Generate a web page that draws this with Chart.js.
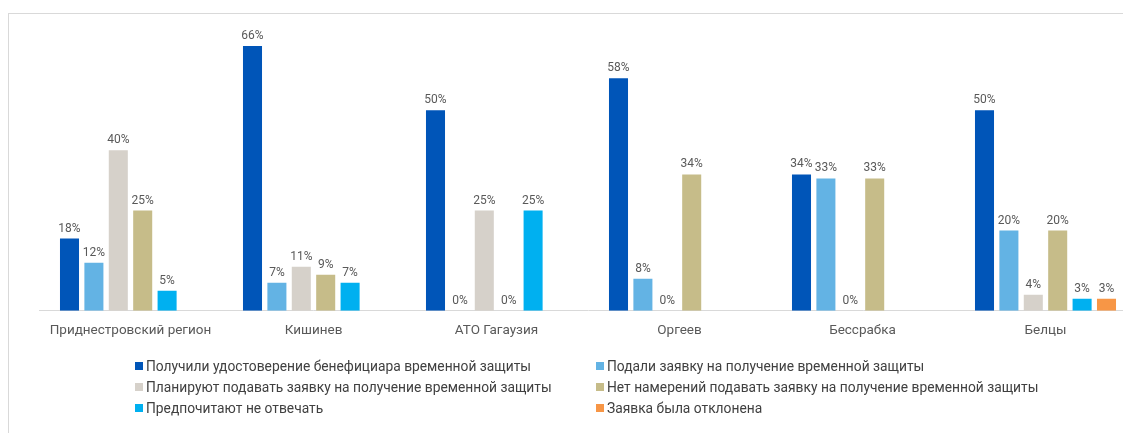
<!DOCTYPE html>
<html>
<head>
<meta charset="utf-8">
<script src="https://cdn.jsdelivr.net/npm/chart.js@4/dist/chart.umd.min.js"></script>
<style>
  html, body { margin: 0; padding: 0; background: #fff; width: 1123px; height: 433px; overflow: hidden; }
  #frame { position: absolute; left: 8px; top: 13px; width: 1300px; height: 600px; border: 1px solid #d9d9d9; box-sizing: border-box; }
  #wrap { position: absolute; left: 0; top: 0; width: 1150px; height: 353px; }
  #legend { position: absolute; left: 0; top: 0; width: 1123px; height: 433px; pointer-events: none;
            font-family: Roboto, "Noto Sans", sans-serif; font-size: 13.8px; color: #404040; }
  .li { position: absolute; display: flex; align-items: center; white-space: nowrap; height: 18px; }
  .sw { width: 8px; height: 8px; margin-right: 3px; flex: none; }
</style>
</head>
<body>
<div id="frame"></div>
<div id="wrap"><canvas id="c"></canvas></div>
<div id="legend"></div>
<script>
const categories = ["Приднестровский регион", "Кишинев", "АТО Гагаузия", "Оргеев", "Бессрабка", "Белцы"];
const seriesNames = [
  "Получили удостоверение бенефициара временной защиты",
  "Подали заявку на получение временной защиты",
  "Планируют подавать заявку на получение временной защиты",
  "Нет намерений подавать заявку на получение временной защиты",
  "Предпочитают не отвечать",
  "Заявка была отклонена"
];
const received   = [18, 66, 50, 58, 34, 50];
const applied    = [12, 7, 0, 8, 33, 20];
const planning   = [40, 11, 25, 0, 0, 4];
const noIntent   = [25, 9, 0, 34, 33, 20];
const noAnswer   = [5, 7, 25, null, null, 3];
const rejected   = [null, null, null, null, null, 3];
const seriesColors = ["#0055B8", "#63B3E4", "#D6D1CA", "#C6BC89", "#00B0F0", "#F79646"];
const seriesValues = [received, applied, planning, noIntent, noAnswer, rejected];

const labelPlugin = {
  id: 'valueLabels',
  afterDatasetsDraw(chart) {
    const ctx = chart.ctx;
    ctx.save();
    ctx.font = '12px Roboto, "Noto Sans", sans-serif';
    ctx.fillStyle = '#595959';
    ctx.textAlign = 'center';
    ctx.textBaseline = 'bottom';
    chart.data.datasets.forEach((ds, i) => {
      const meta = chart.getDatasetMeta(i);
      meta.data.forEach((bar, j) => {
        const v = ds.data[j];
        if (v === null || v === undefined) return;
        ctx.fillText(v + '%', bar.x, bar.y - 4);
      });
    });
    ctx.restore();
  }
};

const chart = new Chart(document.getElementById('c'), {
  type: 'bar',
  data: {
    labels: categories,
    datasets: seriesValues.map((vals, i) => ({
      label: seriesNames[i],
      data: vals,
      backgroundColor: seriesColors[i],
      barPercentage: 0.78,
      categoryPercentage: 0.8
    }))
  },
  options: {
    responsive: true,
    maintainAspectRatio: false,
    animation: false,
    layout: { padding: { left: 39, right: 13, top: 30, bottom: 2 } },
    plugins: { legend: { display: false }, tooltip: { enabled: false } },
    scales: {
      x: {
        grid: { display: false, drawTicks: false },
        border: { display: true, color: '#d9d9d9', width: 1 },
        ticks: { color: '#595959', padding: 12, font: { family: 'Roboto, "Noto Sans", sans-serif', size: 13.5 } }
      },
      y: { display: false, min: 0, max: 70 }
    }
  },
  plugins: [labelPlugin]
});

// HTML legend built from chart datasets
const legend = document.getElementById('legend');
const colX = [135, 596];
const rowY = [357, 378, 399];
chart.data.datasets.forEach((ds, i) => {
  const item = document.createElement('div');
  item.className = 'li';
  item.style.left = colX[i % 2] + 'px';
  item.style.top = rowY[Math.floor(i / 2)] + 'px';
  const sw = document.createElement('span');
  sw.className = 'sw';
  sw.style.background = ds.backgroundColor;
  const tx = document.createElement('span');
  tx.textContent = ds.label;
  item.appendChild(sw);
  item.appendChild(tx);
  legend.appendChild(item);
});
</script>
</body>
</html>
